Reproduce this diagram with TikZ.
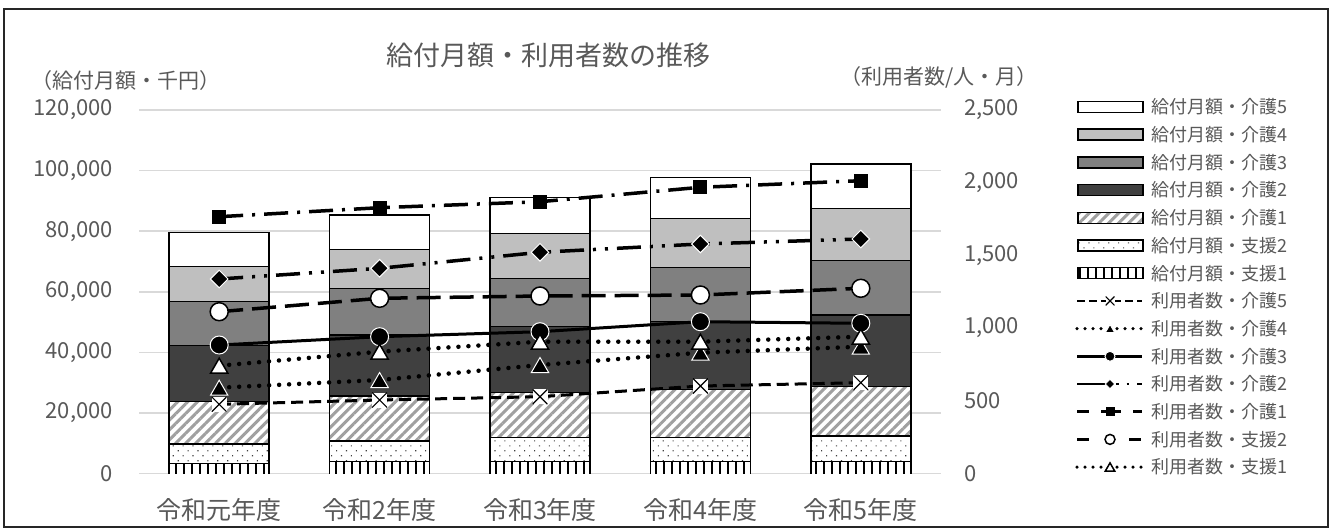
\documentclass[tikz,border=0pt]{standalone}
\usepackage{fontspec}
\setmainfont{Noto Sans CJK JP}
\usetikzlibrary{shapes.geometric,patterns.meta}
\definecolor{txt}{HTML}{595959}
\definecolor{gridc}{HTML}{D9D9D9}
\definecolor{kg4}{HTML}{BFBFBF}
\definecolor{kg3}{HTML}{808080}
\definecolor{kg2}{HTML}{404040}
\definecolor{stripec}{HTML}{A0A0A0}
\tikzset{
  seg/.style={draw=black, line width=1.5pt},
  s5/.style={seg, fill=white},
  s4/.style={seg, fill=kg4},
  s3/.style={seg, fill=kg3},
  s2/.style={seg, fill=kg2},
  s1/.style={seg, preaction={fill=white}, pattern={Lines[angle=45,distance=7pt,line width=3pt]}, pattern color=stripec},
  sq2/.style={seg, preaction={fill=white}, pattern={Dots[angle=45,distance=7pt,radius=0.8pt]}, pattern color=black!75},
  sq1fill/.style={preaction={fill=white}, pattern={Lines[angle=90,distance=8pt,line width=1.2pt]}, pattern color=black},
  gridl/.style={draw=gridc, line width=1.5pt},
  lk5/.style={line width=3pt, dash pattern=on 12pt off 6pt},
  lk4/.style={line width=4.5pt, line cap=round, dash pattern=on 0pt off 10pt},
  lk3/.style={line width=3pt},
  lk2/.style={line width=3.5pt, dash pattern=on 24pt off 9pt on 3pt off 9pt on 3pt off 9pt},
  lk1/.style={line width=3.5pt, dash pattern=on 24pt off 9pt on 3pt off 9pt},
  lq2/.style={line width=3.5pt, dash pattern=on 24pt off 9pt},
  lq1/.style={line width=4.5pt, line cap=round, dash pattern=on 0pt off 10pt},
  mk5/.style={rectangle, fill=white, minimum size=15pt, inner sep=0pt,
    path picture={\draw[black, line width=1.2pt] (path picture bounding box.north west) -- (path picture bounding box.south east) (path picture bounding box.north east) -- (path picture bounding box.south west);}},
  mk4/.style={regular polygon, regular polygon sides=3, fill=black, draw=white, line width=1pt, minimum size=20pt, inner sep=0pt, yshift=-2.5pt},
  mk3/.style={circle, fill=black, draw=white, line width=1pt, minimum size=18pt, inner sep=0pt},
  mk2/.style={diamond, fill=black, draw=white, line width=1pt, minimum size=18pt, inner sep=0pt},
  mk1/.style={rectangle, fill=black, minimum size=14pt, inner sep=0pt},
  mq2/.style={circle, fill=white, draw=black, line width=1.5pt, minimum size=18pt, inner sep=0pt},
  mq1/.style={regular polygon, regular polygon sides=3, fill=white, draw=black, line width=1.5pt, minimum size=20pt, inner sep=0pt, yshift=-2.5pt},
  axnum/.style={font=\fontsize{22pt}{25pt}\selectfont, text=txt, inner sep=0pt},
  cat/.style={font=\fontsize{25pt}{28pt}\selectfont, text=txt, inner sep=0pt},
  lgt/.style={font=\fontsize{18pt}{21pt}\selectfont, text=txt, inner sep=0pt, anchor=west},
  unitl/.style={font=\fontsize{21pt}{25pt}\selectfont, text=txt, inner sep=0pt},
  titl/.style={font=\fontsize{27pt}{30pt}\selectfont, text=txt, inner sep=0pt},
}
\newcommand\stackbar[8]{%
  \fill[sq1fill] (#1-50,473.5) rectangle (#1+50,#2);
  \draw[seg] (#1-50,473.5) -- (#1-50,#2) -- (#1+50,#2) -- (#1+50,473.5);
  \draw[sq2] (#1-50,#2) rectangle (#1+50,#3);
  \draw[s1] (#1-50,#3) rectangle (#1+50,#4);
  \draw[s2] (#1-50,#4) rectangle (#1+50,#5);
  \draw[s3] (#1-50,#5) rectangle (#1+50,#6);
  \draw[s4] (#1-50,#6) rectangle (#1+50,#7);
  \draw[s5] (#1-50,#7) rectangle (#1+50,#8);
}
\begin{document}
\begin{tikzpicture}[x=1pt,y=-1pt]
\useasboundingbox (0,0) rectangle (1339,530);
\fill[white] (0,0) rectangle (1339,530);
% gridlines
\foreach \v in {110,170.6,231.2,291.8,352.3,412.9,473.5}
  \draw[gridl] (139,\v) -- (941,\v);
% bars
\stackbar{219.2}{463.3}{444}{401.7}{345.7}{301.7}{266.7}{232.7}
\stackbar{379.6}{461.7}{441}{396}{335}{288.3}{249.3}{215}
\stackbar{540}{461.7}{437.3}{392.7}{326.7}{278.3}{233.3}{197.3}
\stackbar{700.4}{461.7}{437.3}{389.3}{321.7}{267.3}{218.3}{177.3}
\stackbar{860.8}{461.7}{436}{386.7}{315}{260.7}{208.3}{164}
% data points
\foreach \s/\a/\b/\c/\d/\e in {k5/404.3/400/396.7/386/382.7, k4/387.7/380/365/352.7/346.7, k3/345/336.7/331.7/321.7/323.3, k2/279/268.3/252.3/244/239, k1/216.7/207.7/201.7/187.3/180.7, q2/311.7/298.3/296/295/288.3, q1/365.7/351.7/341.7/341.7/336.7}{
  \coordinate (\s-1) at (219.2,\a);
  \coordinate (\s-2) at (379.6,\b);
  \coordinate (\s-3) at (540,\c);
  \coordinate (\s-4) at (700.4,\d);
  \coordinate (\s-5) at (860.8,\e);
}
% lines
\draw[lk5] (k5-1) -- (k5-2) -- (k5-3) -- (k5-4) -- (k5-5);
\draw[lk4] (k4-1) -- (k4-2) -- (k4-3) -- (k4-4) -- (k4-5);
\draw[lk3] (k3-1) -- (k3-2) -- (k3-3) -- (k3-4) -- (k3-5);
\draw[lk2] (k2-1) -- (k2-2) -- (k2-3) -- (k2-4) -- (k2-5);
\draw[lk1] (k1-1) -- (k1-2) -- (k1-3) -- (k1-4) -- (k1-5);
\draw[lq2] (q2-1) -- (q2-2) -- (q2-3) -- (q2-4) -- (q2-5);
\draw[lq1] (q1-1) -- (q1-2) -- (q1-3) -- (q1-4) -- (q1-5);
% markers
\foreach \i in {1,...,5}{
  \node[mk5] (mk5-\i) at (k5-\i) {};
  \node[mk4] (mk4-\i) at (k4-\i) {};
  \node[mk3] (mk3-\i) at (k3-\i) {};
  \node[mk2] (mk2-\i) at (k2-\i) {};
  \node[mk1] (mk1-\i) at (k1-\i) {};
  \node[mq2] (mq2-\i) at (q2-\i) {};
  \node[mq1] (mq1-\i) at (q1-\i) {};
}
% left axis labels
\node[axnum, anchor=east] (la6) at (113,110) {120,000};
\node[axnum, anchor=east] (la5) at (113,170.6) {100,000};
\node[axnum, anchor=east] (la4) at (113,231.2) {80,000};
\node[axnum, anchor=east] (la3) at (113,291.8) {60,000};
\node[axnum, anchor=east] (la2) at (113,352.3) {40,000};
\node[axnum, anchor=east] (la1) at (113,412.9) {20,000};
\node[axnum, anchor=east] (la0) at (113,473.5) {0};
% right axis labels
\node[axnum, anchor=west] (ra5) at (964,110) {2,500};
\node[axnum, anchor=west] (ra4) at (964,182.7) {2,000};
\node[axnum, anchor=west] (ra3) at (964,255.4) {1,500};
\node[axnum, anchor=west] (ra2) at (964,328.1) {1,000};
\node[axnum, anchor=west] (ra1) at (964,400.8) {500};
\node[axnum, anchor=west] (ra0) at (964,473.5) {0};
% category labels
\node[cat] (c1) at (219.2,510) {令和元年度};
\node[cat] (c2) at (379.6,510) {令和2年度};
\node[cat] (c3) at (540,510) {令和3年度};
\node[cat] (c4) at (700.4,510) {令和4年度};
\node[cat] (c5) at (860.8,510) {令和5年度};
% title and units
\node[titl] (title) at (548,55) {給付月額・利用者数の推移};
\node[unitl, anchor=west] (ul) at (31,81) {（給付月額・千円）};
\node[unitl, anchor=east] (ur) at (1038,77) {（利用者数/人・月）};
% legend: bars
\draw[s5] (1078,101.5) rectangle (1143,112.5);
\draw[s4] (1078,129.2) rectangle (1143,140.2);
\draw[s3] (1078,156.9) rectangle (1143,167.9);
\draw[s2] (1078,184.6) rectangle (1143,195.6);
\draw[s1] (1078,212.3) rectangle (1143,223.3);
\draw[sq2] (1078,240) rectangle (1143,251);
\draw[seg, sq1fill] (1078,267.7) rectangle (1143,278.7);
\node[lgt] (t1) at (1151,107) {給付月額・介護5};
\node[lgt] (t2) at (1151,134.7) {給付月額・介護4};
\node[lgt] (t3) at (1151,162.4) {給付月額・介護3};
\node[lgt] (t4) at (1151,190.1) {給付月額・介護2};
\node[lgt] (t5) at (1151,217.8) {給付月額・介護1};
\node[lgt] (t6) at (1151,245.5) {給付月額・支援2};
\node[lgt] (t7) at (1151,273.2) {給付月額・支援1};
% legend: lines
\foreach \s/\y in {k5/300.9, k4/328.6, k3/356.3, k2/384, k1/411.7, q2/439.4, q1/467.1}{
  \coordinate (L\s a) at (1077,\y);
  \coordinate (L\s m) at (1110,\y);
  \coordinate (L\s b) at (1142,\y);
}
\draw[lk5, line width=2.5pt, dash pattern=on 8pt off 4pt] (Lk5a) -- (Lk5b);
\draw[lk4, line width=3.5pt, dash pattern=on 0pt off 8pt] (Lk4a) -- (Lk4b);
\draw[lk3, line width=2.5pt] (Lk3a) -- (Lk3b);
\draw[lk2, line width=2.5pt, dash pattern=on 31pt off 8pt on 2.5pt off 8pt on 2.5pt off 8pt] (Lk2a) -- (Lk2b);
\draw[lk1, line width=2.5pt, dash pattern=on 12pt off 12pt on 20pt off 12pt] (Lk1a) -- (Lk1b);
\draw[lq2, line width=2.5pt, dash pattern=on 12pt off 40pt] (Lq2a) -- (Lq2b);
\draw[lq1, line width=3.5pt, dash pattern=on 0pt off 8pt] (Lq1a) -- (Lq1b);
\node[mk5, minimum size=9pt] (lm5) at (Lk5m) {};
\node[mk4, minimum size=11pt, yshift=1.2pt] (lm4) at (Lk4m) {};
\node[mk3, minimum size=10pt] (lm3) at (Lk3m) {};
\node[mk2, minimum size=10pt] (lm2) at (Lk2m) {};
\node[mk1, minimum size=9pt] (lm1) at (Lk1m) {};
\node[mq2, minimum size=10pt] (lq2) at (Lq2m) {};
\node[mq1, minimum size=11pt, yshift=1.2pt] (lq1) at (Lq1m) {};
\node[lgt] (t8) at (1151,300.9) {利用者数・介護5};
\node[lgt] (t9) at (1151,328.6) {利用者数・介護4};
\node[lgt] (t10) at (1151,356.3) {利用者数・介護3};
\node[lgt] (t11) at (1151,384) {利用者数・介護2};
\node[lgt] (t12) at (1151,411.7) {利用者数・介護1};
\node[lgt] (t13) at (1151,439.4) {利用者数・支援2};
\node[lgt] (t14) at (1151,467.1) {利用者数・支援1};
% outer border
\draw[line width=1.8pt, black!85] (4,9) rectangle (1328,527);
\end{tikzpicture}
\end{document}
